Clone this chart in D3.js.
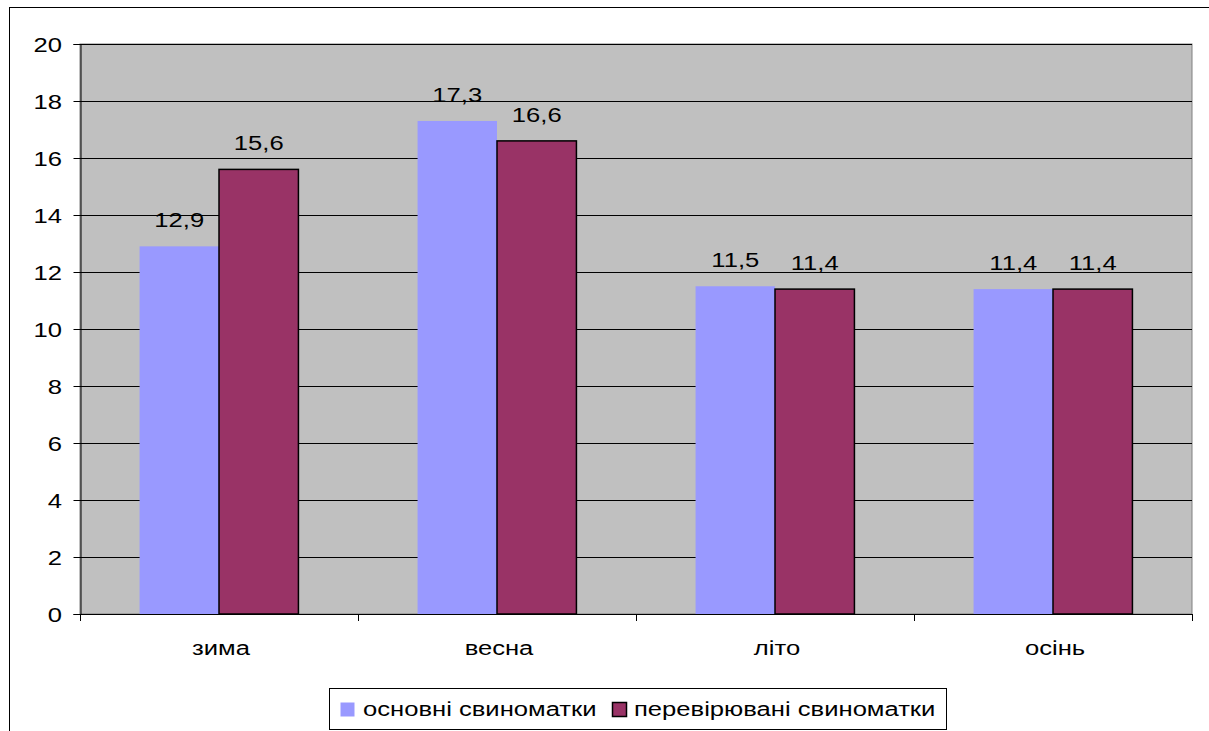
<!DOCTYPE html>
<html><head><meta charset="utf-8">
<script src="https://cdn.jsdelivr.net/npm/d3@7"></script>
<style>body{margin:0;background:#fff}svg{display:block}</style>
</head><body>
<script>
const categories = ["зима", "весна", "літо", "осінь"];
const seriesNames = ["основні свиноматки", "перевірювані свиноматки"];
const seriesA = [12.9, 17.3, 11.5, 11.4];
const seriesB = [15.6, 16.6, 11.4, 11.4];
const valueLabelsA = ["12,9", "17,3", "11,5", "11,4"];
const valueLabelsB = ["15,6", "16,6", "11,4", "11,4"];
const yTicks = [0, 2, 4, 6, 8, 10, 12, 14, 16, 18, 20];
const colors = ["#9999FF", "#993366"];

const W = 1209, H = 731;
const svg = d3.select("body").append("svg").attr("width", W).attr("height", H);
const font = "'Liberation Sans', Arial, sans-serif";
const SX = 1.22;

function stext(g, x, y, txt, anchor, size) {
  return g.append("text")
    .attr("transform", `translate(${x},${y}) scale(${SX},1)`)
    .attr("text-anchor", anchor || "start")
    .attr("font-family", font).attr("font-size", size || 21).attr("fill", "#000")
    .text(txt);
}

// outer border
svg.append("rect").attr("x", 9.5).attr("y", 7.5).attr("width", 1210).attr("height", 740)
  .attr("fill", "#fff").attr("stroke", "#000").attr("stroke-width", 1);

const L = 80, R = 1192, T = 44, B = 614;
const x = d3.scaleBand().domain(categories).range([L, R]).paddingInner(0).paddingOuter(0);
const y = d3.scaleLinear().domain([0, 20]).range([B, T]);
const bw = x.bandwidth() / 3.5;
const off = bw * 0.75;

svg.append("rect").attr("x", L).attr("y", T).attr("width", R - L).attr("height", B - T)
  .attr("fill", "#C0C0C0").attr("stroke", "#808080").attr("stroke-width", 1);

// gridlines
svg.append("g").selectAll("line").data(yTicks.filter(d => d > 0)).join("line")
  .attr("x1", L).attr("x2", R).attr("y1", d => Math.round(y(d)) + 0.5).attr("y2", d => Math.round(y(d)) + 0.5)
  .attr("stroke", "#000").attr("stroke-width", 1);

// bars
const data = categories.map((c, i) => ({c, a: seriesA[i], b: seriesB[i], la: valueLabelsA[i], lb: valueLabelsB[i]}));
svg.append("g").selectAll("rect").data(data).join("rect")
  .attr("x", d => x(d.c) + off).attr("width", bw)
  .attr("y", d => y(d.a)).attr("height", d => B - y(d.a)).attr("fill", colors[0]);
svg.append("g").selectAll("rect").data(data).join("rect")
  .attr("x", d => x(d.c) + off + bw).attr("width", bw)
  .attr("y", d => y(d.b)).attr("height", d => B - y(d.b)).attr("fill", colors[1])
  .attr("stroke", "#000").attr("stroke-width", 1.5);

// value labels
const vl = svg.append("g");
data.forEach(d => {
  stext(vl, x(d.c) + off + bw / 2, y(d.a) - 19, d.la, "middle");
  stext(vl, x(d.c) + off + bw * 1.5, y(d.b) - 19, d.lb, "middle");
});

// y axis
const ya = svg.append("g").attr("transform", `translate(${L + 0.5},0)`)
  .call(d3.axisLeft(y).tickValues(yTicks).tickSize(7).tickFormat(""));
ya.select(".domain").attr("stroke", "#000");
ya.selectAll("line").attr("stroke", "#000");
const yl = svg.append("g");
yTicks.forEach(t => stext(yl, 62, y(t) + 7.5, d3.format("d")(t), "end"));

// x axis
const xa = svg.append("g").attr("transform", `translate(0,${B + 0.5})`)
  .call(d3.axisBottom(x).tickSize(0).tickFormat(""));
xa.select(".domain").attr("stroke", "#000").attr("d", `M${L},0H${R}`);
svg.append("g").selectAll("line").data(categories.concat(["_end"])).join("line")
  .attr("x1", (d, i) => Math.round(L + i * x.bandwidth()) + 0.5)
  .attr("x2", (d, i) => Math.round(L + i * x.bandwidth()) + 0.5)
  .attr("y1", B).attr("y2", B + 7).attr("stroke", "#000");
const xl = svg.append("g");
categories.forEach(c => stext(xl, x(c) + x.bandwidth() / 2 + 2, 655, c, "middle"));

// legend
const lg = svg.append("g");
lg.append("rect").attr("x", 329.5).attr("y", 688.5).attr("width", 617).attr("height", 41)
  .attr("fill", "#fff").attr("stroke", "#000");
const items = [{x: 340, tx: 363, name: seriesNames[0], c: colors[0], s: false},
               {x: 612, tx: 634, name: seriesNames[1], c: colors[1], s: true}];
items.forEach(it => {
  lg.append("rect").attr("x", it.x + 0.5).attr("y", 702.5).attr("width", 14).attr("height", 14)
    .attr("fill", it.c).attr("stroke", it.s ? "#000" : "none").attr("stroke-width", 1.5);
  stext(lg, it.tx, 716, it.name, "start");
});
</script>
</body></html>
